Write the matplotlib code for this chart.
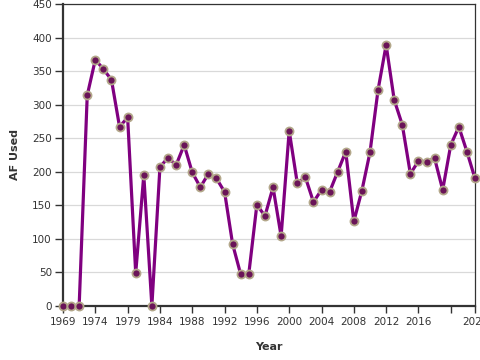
import matplotlib
matplotlib.use('Agg')
import matplotlib.pyplot as plt

# AF used per data point
af_used = [0, 0, 0, 314, 367, 353, 337, 267, 281, 49, 195, 0,
           207, 221, 210, 240, 199, 177, 197, 190, 170, 92, 47, 48,
           151, 134, 177, 104, 261, 183, 192, 155, 173, 170, 200, 230,
           126, 172, 229, 322, 389, 307, 270, 197, 216, 215, 220, 173,
           240, 267, 230, 190]

tick_idx = [0, 4, 8, 12, 16, 20, 24, 28, 32, 36, 40, 44, 48, 51]
tick_labels = ['1969', '1974', '1979', '1984', '1988', '1992', '1996',
               '2000', '2004', '2008', '2012', '2016', '', '2023']

y_ticks = list(range(0, 451, 50))

x = list(range(len(af_used)))

fig = plt.figure(figsize=(4.8, 3.6), dpi=100)
ax = fig.add_axes([63 / 480, 1 - 306 / 360, 412 / 480, 302 / 360])

ax.plot(x, af_used, color='#800080', linewidth=2.3, marker='o',
        markersize=5.8, markerfacecolor='#6a1458', markeredgecolor='#b3a78a',
        markeredgewidth=1.3, clip_on=False, zorder=3)

ax.set_xlim(0, 51)
ax.set_ylim(0, 450)
ax.set_yticks(y_ticks)
ax.set_xticks(tick_idx)
ax.set_xticklabels(tick_labels)

ax.grid(axis='y', color='#d9d9d9', linewidth=0.9)
ax.set_axisbelow(True)

for side in ['left', 'bottom']:
    ax.spines[side].set_linewidth(1.6)
    ax.spines[side].set_color('#333333')
for side in ['top', 'right']:
    ax.spines[side].set_linewidth(0.9)
    ax.spines[side].set_color('#333333')

ax.tick_params(axis='y', length=6, width=1, color='#333333',
               labelsize=7.5, labelcolor='#333333', pad=2)
ax.tick_params(axis='x', length=5, width=1, color='#333333',
               labelsize=7.5, labelcolor='#333333', pad=3)

ax.set_xlabel('Year', fontsize=8, fontweight='bold', color='#333333', labelpad=11)
ax.set_ylabel('AF Used', fontsize=8, fontweight='bold', color='#333333', labelpad=9)

fig.savefig('out.png', dpi=100)
